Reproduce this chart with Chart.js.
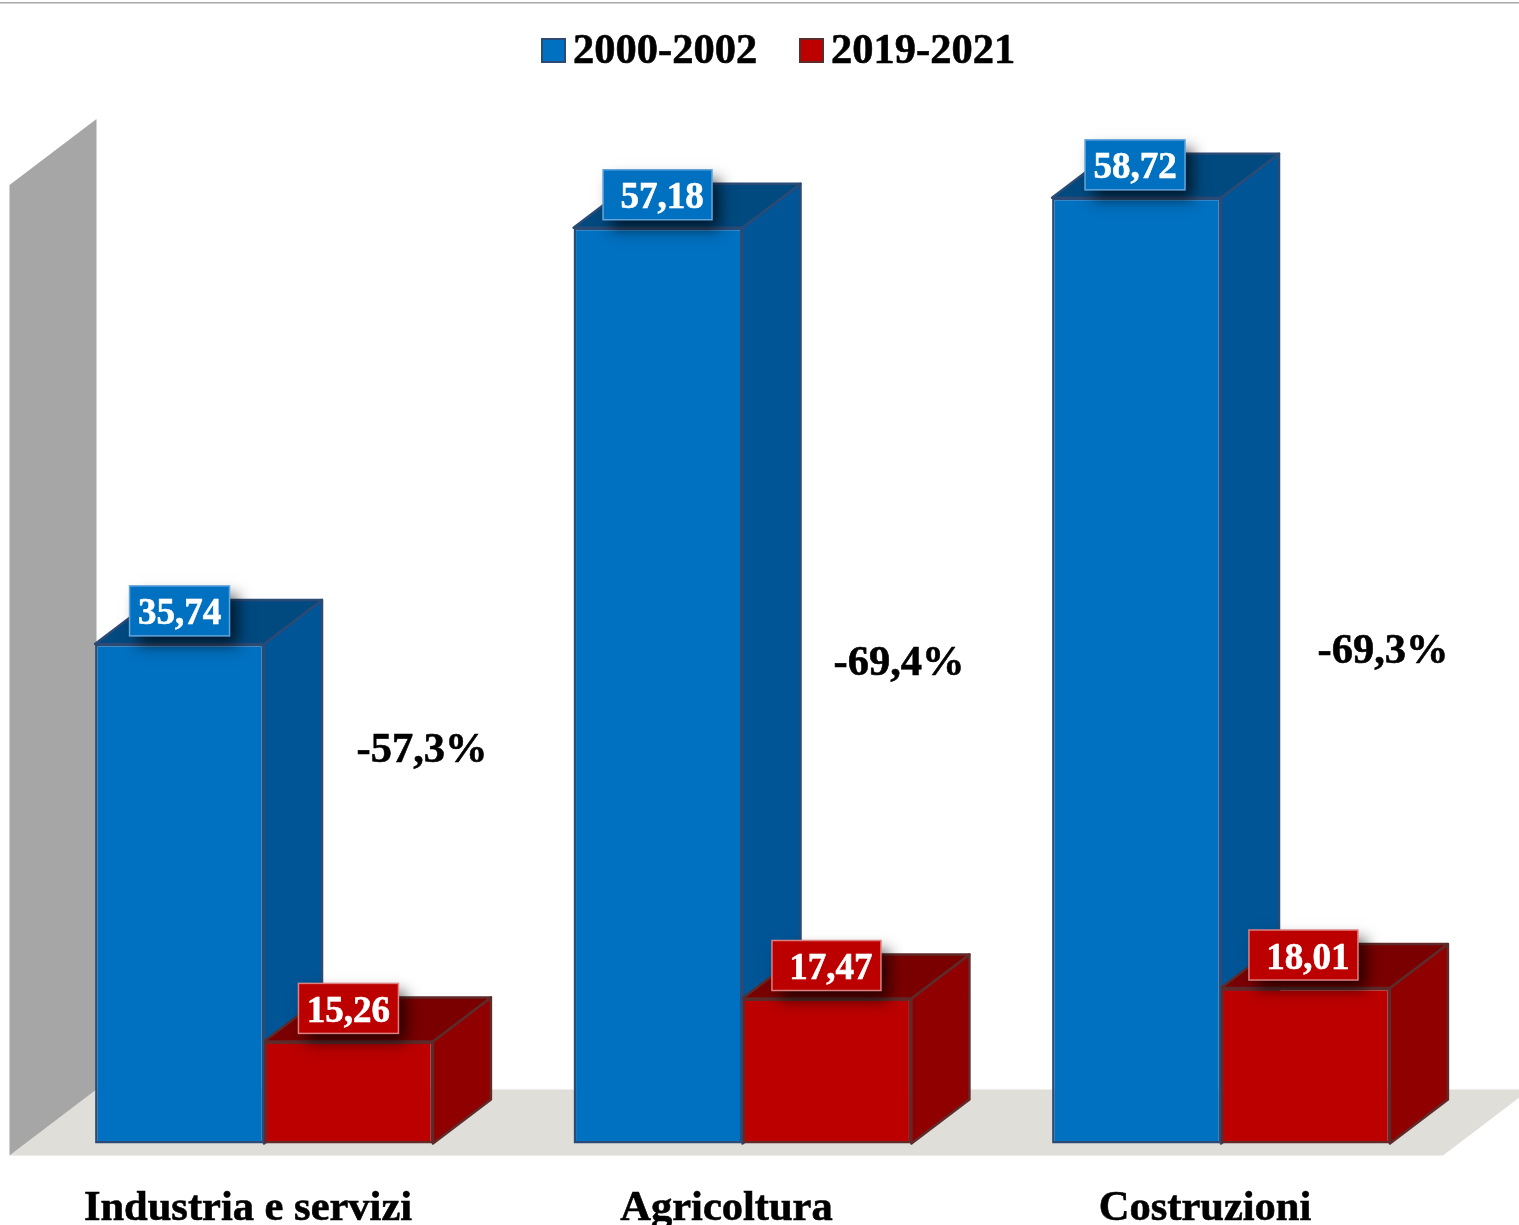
<!DOCTYPE html>
<html lang="it">
<head>
<meta charset="utf-8">
<title>2000-2002 / 2019-2021</title>
<style>
  html, body { margin: 0; padding: 0; background: #fff; }
  canvas { display: block; }
</style>
<script src="https://cdn.jsdelivr.net/npm/chart.js@4/dist/chart.umd.js"></script>
</head>
<body>
<canvas id="chart" width="1519" height="1225"></canvas>
<script>
// Chart values
const categories = ['Industria e servizi', 'Agricoltura', 'Costruzioni'];
const period2000 = [35.74, 57.18, 58.72];
const period2019 = [15.26, 17.47, 18.01];
const changeLabels = ['-57,3%', '-69,4%', '-69,3%'];
const axisMin = 10;
const axisMax = 60;

// Extruded look
const SERIF = '"Liberation Serif", "Times New Roman", serif';
const BAR_DEPTH = { x: 58, y: 44 };
const ROOM_DEPTH = { x: 87, y: 66 };
const ROOM_FRONT_DROP = 12;
const seriesStyles = [
  { front: '#0070C0', side: '#005596', top: '#004A80', edge: '#2B4A75', tagEdge: '#64A6DC', wideTags: [false, true, false], tagShift: [0, 4, -1.5] },
  { front: '#BC0000', side: '#900000', top: '#7A0000', edge: '#5F2A2A', tagEdge: '#DC8080', wideTags: [false, true, true], tagShift: [0, 4, 2.5] }
];
const changeOffsets = [[158, 751], [156.5, 664], [162, 652]];

function polygon(ctx, points, fill, stroke) {
  ctx.beginPath();
  points.forEach(([x, y], i) => (i ? ctx.lineTo(x, y) : ctx.moveTo(x, y)));
  ctx.closePath();
  ctx.fillStyle = fill;
  ctx.fill();
  if (stroke) {
    ctx.strokeStyle = stroke;
    ctx.lineWidth = 2.5;
    ctx.lineJoin = 'round';
    ctx.stroke();
  }
}

// Text with a hairline outline so the bold serif keeps its weight
function boldText(ctx, text, x, y, color) {
  ctx.fillStyle = color;
  ctx.strokeStyle = color;
  ctx.lineWidth = 0.6;
  ctx.fillText(text, x, y);
  ctx.strokeText(text, x, y);
}

const roomAndBarSides = {
  id: 'roomAndBarSides',
  beforeDatasetsDraw(chart) {
    const { ctx, scales: { y } } = chart;
    const wallX = 9.5;
    const topY = y.getPixelForValue(axisMax) + ROOM_FRONT_DROP;
    const floorY = y.getPixelForValue(axisMin) + ROOM_FRONT_DROP;
    const d = ROOM_DEPTH;
    ctx.save();
    // hairline along the top of the page
    ctx.fillStyle = '#A8A8A8';
    ctx.fillRect(0, 2, chart.width, 1.5);
    // floor and side wall
    polygon(ctx, [[wallX, floorY], [1443, floorY], [1443 + d.x, floorY - d.y], [wallX + d.x, floorY - d.y]], '#E0DED8');
    polygon(ctx, [[wallX, topY], [wallX + d.x, topY - d.y], [wallX + d.x, floorY - d.y], [wallX, floorY]], '#A6A6A6');
    // top and right faces of each bar
    chart.data.datasets.forEach((ds, i) => {
      const st = seriesStyles[i];
      chart.getDatasetMeta(i).data.forEach(bar => {
        const { x, y: top, base, width } = bar.getProps(['x', 'y', 'base', 'width']);
        const l = x - width / 2, r = x + width / 2, b = BAR_DEPTH;
        polygon(ctx, [[r, top], [r + b.x, top - b.y], [r + b.x, base - b.y], [r, base]], st.side, st.edge);
        polygon(ctx, [[l, top], [l + b.x, top - b.y], [r + b.x, top - b.y], [r, top]], st.top, st.edge);
      });
    });
    ctx.restore();
  },
  afterDatasetsDraw(chart) {
    const { ctx, scales: { x: xs } } = chart;
    ctx.save();
    // value tags above each bar
    chart.data.datasets.forEach((ds, i) => {
      const st = seriesStyles[i];
      chart.getDatasetMeta(i).data.forEach((bar, j) => {
        const { x, y: top } = bar.getProps(['x', 'y']);
        const textX = x + st.tagShift[j];
        const left = st.wideTags[j] ? textX - 59 : textX - 50;
        const cy = top - 33;
        ctx.save();
        ctx.shadowColor = 'rgba(0,0,0,0.65)';
        ctx.shadowBlur = 14;
        ctx.shadowOffsetX = 8;
        ctx.shadowOffsetY = 9;
        ctx.fillStyle = st.front;
        ctx.fillRect(left, cy - 25, textX + 50 - left, 50);
        ctx.restore();
        ctx.strokeStyle = st.tagEdge;
        ctx.lineWidth = 1.5;
        ctx.strokeRect(left, cy - 25, textX + 50 - left, 50);
        ctx.font = 'bold 37px ' + SERIF;
        ctx.textAlign = 'center';
        ctx.textBaseline = 'middle';
        boldText(ctx, ds.data[j].toFixed(2).replace('.', ','), textX, cy + 4, '#fff');
      });
    });
    // percentage change beside each pair
    ctx.font = 'bold 42.5px ' + SERIF;
    ctx.textAlign = 'center';
    ctx.textBaseline = 'middle';
    changeLabels.forEach((text, j) => {
      boldText(ctx, text, xs.getPixelForTick(j) + changeOffsets[j][0], changeOffsets[j][1], '#000');
    });
    // legend row
    let lx = 541;
    chart.data.datasets.forEach((ds, i) => {
      const st = seriesStyles[i];
      ctx.fillStyle = st.front;
      ctx.fillRect(lx, 38, 25, 25);
      ctx.strokeStyle = st.edge;
      ctx.lineWidth = 2;
      ctx.strokeRect(lx + 1, 39, 23, 23);
      ctx.textAlign = 'left';
      boldText(ctx, ds.label, lx + 32, 52.5, '#000');
      lx += 258;
    });
    ctx.restore();
  }
};

new Chart(document.getElementById('chart'), {
  type: 'bar',
  data: {
    labels: categories,
    datasets: [
      { label: '2000-2002', data: period2000, backgroundColor: seriesStyles[0].front, borderColor: seriesStyles[0].edge },
      { label: '2019-2021', data: period2019, backgroundColor: seriesStyles[1].front, borderColor: seriesStyles[1].edge }
    ]
  },
  options: {
    responsive: false,
    animation: false,
    devicePixelRatio: 1,
    layout: { padding: { left: 24.75, right: 58.75, top: 173, bottom: 0 } },
    datasets: { bar: { base: axisMin, barPercentage: 1, categoryPercentage: 0.706, borderWidth: 2.5, borderSkipped: false, clip: 4 } },
    plugins: { legend: { display: false }, tooltip: { enabled: false }, title: { display: false } },
    scales: {
      x: {
        grid: { display: false, drawTicks: false },
        border: { display: false },
        afterFit(scale) { scale.height = 81.5; },
        ticks: {
          color: '#000',
          font: { family: SERIF, size: 42.5, weight: 'bold' },
          textStrokeColor: '#000',
          textStrokeWidth: 0.6,
          maxRotation: 0,
          autoSkip: false,
          padding: 40,
          labelOffset: -16
        }
      },
      y: { display: false, min: axisMin, max: axisMax }
    }
  },
  plugins: [roomAndBarSides]
});
</script>
</body>
</html>
